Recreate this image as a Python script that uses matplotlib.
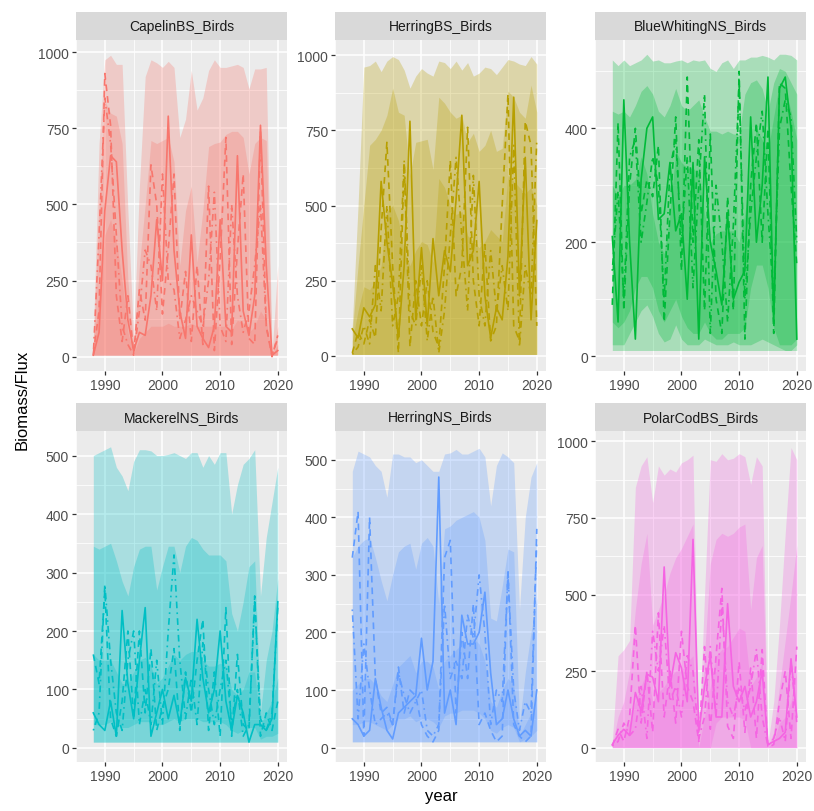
import numpy as np
import matplotlib
matplotlib.use("Agg")
import matplotlib.pyplot as plt

plt.rcParams['font.family'] = ['Liberation Sans', 'DejaVu Sans']

years = list(range(1988, 2021))

# ---- CapelinBS_Birds
cap_hi1 = [60, 700, 975, 990, 960, 960, 480, 60, 560, 920, 975, 965, 950, 970, 950, 720, 780,
           940, 810, 850, 940, 975, 950, 950, 955, 960, 950, 880, 945, 945, 950, 10, 300]
cap_hi2 = [30, 500, 840, 800, 790, 700, 250, 30, 300, 500, 710, 700, 710, 720, 640, 300, 480,
           560, 310, 480, 690, 700, 705, 730, 740, 740, 720, 600, 700, 720, 710, 5, 100]
cap_hi3 = [20, 200, 400, 450, 380, 250, 80, 10, 60, 80, 100, 100, 100, 110, 100, 100, 100,
           110, 100, 100, 100, 100, 100, 100, 90, 120, 110, 80, 100, 150, 120, 0, 40]
cap_lo = [5] * 33
cap_l1 = [5, 80, 480, 660, 640, 350, 120, 20, 80, 70, 200, 450, 250, 790, 350, 150, 60,
          400, 100, 60, 30, 100, 450, 100, 80, 660, 150, 70, 200, 760, 300, 5, 20]
cap_l2 = [10, 150, 930, 760, 200, 50, 200, 10, 220, 120, 630, 500, 140, 350, 600, 120, 280,
          50, 300, 40, 560, 20, 320, 720, 40, 350, 600, 60, 40, 740, 100, 0, 70]
cap_l3 = [5, 400, 850, 700, 400, 100, 40, 5, 150, 350, 300, 150, 600, 250, 220, 60, 120,
          200, 150, 100, 250, 540, 100, 50, 500, 200, 80, 150, 300, 500, 100, 5, 60]

# ---- HerringBS_Birds
hbs_hi1 = [100, 500, 960, 965, 980, 945, 980, 995, 985, 950, 890, 930, 955, 940, 930, 980, 975,
           955, 980, 950, 975, 930, 940, 960, 955, 935, 960, 985, 980, 970, 965, 995, 970]
hbs_hi2 = [80, 300, 500, 700, 720, 750, 800, 890, 810, 800, 600, 710, 715, 720, 620, 860, 840,
           810, 790, 800, 710, 740, 680, 700, 750, 680, 690, 880, 860, 810, 790, 900, 810]
hbs_hi3 = [50, 150, 230, 220, 250, 300, 480, 500, 450, 350, 300, 350, 380, 370, 310, 590, 560,
           500, 470, 480, 400, 380, 360, 380, 420, 400, 380, 600, 580, 560, 540, 560, 500]
hbs_lo = [5] * 33
hbs_l1 = [90, 60, 160, 130, 170, 580, 380, 240, 60, 300, 780, 120, 360, 100, 390, 200, 350,
          280, 520, 800, 300, 350, 580, 200, 60, 160, 120, 330, 860, 200, 660, 120, 450]
hbs_l2 = [10, 80, 40, 120, 60, 420, 710, 300, 10, 640, 30, 250, 100, 250, 80, 30, 300,
          650, 200, 300, 760, 250, 100, 370, 50, 100, 500, 870, 100, 50, 780, 700, 100]
hbs_l3 = [5, 30, 100, 40, 300, 150, 500, 100, 200, 650, 150, 100, 300, 50, 200, 10, 150,
          400, 660, 400, 150, 600, 200, 100, 350, 150, 300, 150, 700, 30, 300, 200, 720]

# ---- BlueWhitingNS_Birds
bw_hi1 = [520, 510, 520, 510, 515, 520, 530, 518, 520, 515, 515, 518, 520, 515, 520, 518, 520,
          505, 500, 515, 520, 505, 520, 520, 525, 525, 528, 525, 520, 530, 530, 528, 520]
bw_lo1 = [10] * 33
bw_hi2 = [430, 425, 430, 420, 440, 465, 475, 460, 430, 420, 440, 470, 440, 430, 440, 450, 420,
          395, 395, 390, 395, 390, 390, 460, 480, 485, 470, 430, 480, 505, 500, 480, 460]
bw_lo2 = [20, 20, 20, 40, 60, 80, 90, 70, 40, 25, 30, 55, 30, 20, 20, 20, 30,
          25, 20, 20, 20, 25, 20, 20, 20, 25, 30, 25, 20, 15, 10, 10, 20]
bw_hi3 = [300, 280, 300, 300, 310, 350, 320, 250, 200, 180, 250, 360, 340, 330, 330, 320, 250,
          200, 215, 220, 220, 220, 200, 250, 340, 400, 380, 360, 420, 480, 470, 430, 380]
bw_lo3 = [60, 50, 60, 80, 120, 140, 140, 120, 80, 60, 80, 100, 70, 50, 40, 40, 60,
          40, 30, 30, 40, 40, 40, 50, 120, 160, 160, 120, 50, 20, 20, 20, 30]
bw_l1 = [210, 60, 450, 200, 30, 310, 400, 420, 240, 250, 340, 220, 250, 100, 340, 30, 350,
         200, 150, 90, 250, 100, 130, 150, 420, 200, 300, 490, 60, 470, 490, 400, 30]
bw_l2 = [90, 410, 80, 300, 400, 250, 310, 280, 370, 60, 250, 420, 150, 490, 200, 380, 80,
         390, 100, 40, 280, 80, 500, 30, 300, 410, 200, 400, 40, 480, 470, 300, 160]
bw_l3 = [150, 290, 100, 350, 380, 200, 270, 350, 300, 100, 330, 380, 200, 350, 120, 300, 460,
         40, 300, 200, 60, 230, 480, 100, 250, 350, 430, 250, 100, 400, 450, 420, 200]

# ---- MackerelNS_Birds
mk_hi1 = [500, 505, 510, 515, 480, 465, 440, 490, 510, 510, 508, 500, 500, 502, 505, 500, 495,
          505, 505, 480, 500, 485, 505, 505, 400, 450, 485, 495, 510, 260, 360, 420, 480]
mk_hi2 = [345, 340, 345, 350, 320, 285, 260, 310, 340, 345, 345, 270, 310, 345, 345, 300, 345,
          360, 355, 340, 330, 330, 330, 320, 230, 200, 250, 310, 320, 60, 150, 200, 290]
mk_lo = [10] * 33
mk_hi3 = [160, 150, 150, 150, 130, 110, 110, 130, 150, 155, 140, 110, 120, 140, 160, 150, 160,
          165, 165, 150, 140, 140, 145, 140, 100, 90, 100, 130, 130, 40, 60, 80, 120]
mk_lo3 = [40, 40, 40, 45, 40, 35, 35, 40, 45, 45, 45, 40, 40, 45, 50, 45, 50,
          50, 50, 45, 45, 45, 45, 40, 30, 25, 30, 35, 35, 15, 20, 20, 25]
mk_l1 = [60, 40, 30, 80, 20, 235, 110, 50, 150, 240, 20, 60, 100, 50, 90, 40, 120,
         80, 220, 120, 60, 100, 200, 80, 30, 90, 60, 10, 40, 40, 30, 50, 250]
mk_l2 = [160, 110, 270, 50, 20, 80, 200, 50, 200, 60, 170, 30, 70, 100, 170, 30, 130,
         60, 150, 220, 30, 130, 20, 240, 20, 160, 40, 30, 260, 20, 60, 30, 80]
mk_l3 = [30, 60, 280, 150, 60, 30, 150, 200, 40, 100, 40, 150, 40, 200, 330, 150, 50,
         120, 40, 180, 100, 40, 100, 150, 40, 100, 20, 40, 250, 50, 30, 60, 240]

# ---- HerringNS_Birds
hns_hi1 = [480, 515, 510, 505, 490, 480, 435, 510, 510, 505, 505, 495, 500, 490, 480, 480, 510,
           512, 518, 510, 510, 515, 520, 505, 420, 490, 512, 505, 495, 240, 400, 470, 495]
hns_hi2 = [330, 350, 360, 365, 330, 290, 255, 300, 340, 350, 355, 310, 355, 365, 350, 250, 380,
           385, 395, 400, 405, 410, 400, 360, 225, 220, 280, 345, 340, 40, 130, 200, 260]
hns_lo = [10] * 33
hns_hi3 = [100, 110, 120, 120, 110, 90, 80, 110, 140, 150, 160, 130, 150, 150, 140, 100, 150,
           160, 170, 180, 180, 190, 180, 150, 80, 70, 100, 120, 110, 20, 40, 60, 90]
hns_lo3 = [40, 40, 45, 45, 40, 35, 30, 40, 50, 50, 55, 45, 50, 50, 45, 35, 55,
           60, 60, 65, 65, 65, 60, 50, 30, 25, 35, 40, 35, 10, 15, 20, 30]
hns_l1 = [50, 40, 20, 30, 120, 70, 30, 15, 60, 70, 80, 90, 190, 100, 150, 470, 60,
          100, 40, 230, 180, 180, 200, 270, 130, 40, 50, 100, 50, 20, 30, 20, 100]
hns_l2 = [330, 410, 20, 400, 120, 60, 70, 40, 140, 60, 100, 90, 40, 20, 10, 30, 330,
          360, 60, 200, 120, 250, 40, 60, 30, 10, 20, 310, 40, 20, 10, 20, 380]
hns_l3 = [240, 50, 180, 100, 40, 50, 60, 40, 130, 90, 60, 80, 100, 30, 20, 40, 250,
          120, 150, 120, 230, 190, 300, 200, 40, 100, 80, 300, 100, 30, 80, 60, 360]

# ---- PolarCodBS_Birds
pc_hi1 = [20, 300, 320, 350, 850, 920, 950, 800, 920, 890, 910, 900, 930, 940, 955, 10, 500,
          940, 935, 960, 940, 945, 960, 950, 860, 950, 920, 10, 150, 400, 700, 980, 940]
pc_hi2 = [10, 100, 150, 250, 450, 600, 700, 400, 450, 500, 570, 620, 650, 690, 730, 5, 300,
          600, 680, 700, 690, 700, 720, 730, 450, 620, 660, 5, 50, 200, 350, 500, 660]
pc_lo = [0] * 33
pc_hi3 = [5, 40, 60, 80, 150, 200, 250, 150, 180, 200, 230, 250, 250, 280, 300, 0, 100,
          200, 300, 320, 330, 360, 390, 380, 200, 230, 280, 0, 20, 80, 100, 150, 250]
pc_lo3 = [0, 0, 0, 0, 0, 0, 0, 0, 0, 0, 0, 0, 0, 0, 0, 0, 0,
          0, 80, 100, 100, 100, 100, 90, 0, 0, 0, 0, 0, 0, 0, 0, 0]
pc_l1 = [10, 40, 60, 40, 180, 120, 240, 230, 150, 590, 200, 310, 260, 150, 680, 50, 200,
         300, 100, 100, 470, 200, 150, 200, 100, 150, 250, 10, 20, 30, 50, 290, 100]
pc_l2 = [5, 60, 20, 100, 400, 80, 250, 50, 440, 100, 250, 80, 380, 200, 150, 20, 330,
         60, 300, 520, 70, 30, 280, 50, 260, 30, 320, 0, 10, 150, 250, 30, 330]
pc_l3 = [5, 20, 80, 40, 60, 200, 30, 380, 250, 400, 150, 200, 100, 300, 250, 30, 100,
         330, 100, 470, 150, 100, 200, 120, 200, 320, 100, 5, 30, 100, 20, 280, 80]

titles = ["CapelinBS_Birds", "HerringBS_Birds", "BlueWhitingNS_Birds",
          "MackerelNS_Birds", "HerringNS_Birds", "PolarCodBS_Birds"]
colors = ["#F8766D", "#B79F00", "#00BA38", "#00BFC4", "#619CFF", "#F564E3"]

panels = [
    dict(ribbons=[(cap_lo, cap_hi1), (cap_lo, cap_hi2), (cap_lo, cap_hi3)],
         lines=[cap_l1, cap_l2, cap_l3], ylim=(-47, 1040), major=250),
    dict(ribbons=[(hbs_lo, hbs_hi1), (hbs_lo, hbs_hi2), (hbs_lo, hbs_hi3)],
         lines=[hbs_l1, hbs_l2, hbs_l3], ylim=(-50, 1050), major=250),
    dict(ribbons=[(bw_lo1, bw_hi1), (bw_lo2, bw_hi2), (bw_lo3, bw_hi3)],
         lines=[bw_l1, bw_l2, bw_l3], ylim=(-26, 555), major=200),
    dict(ribbons=[(mk_lo, mk_hi1), (mk_lo, mk_hi2), (mk_lo3, mk_hi3)],
         lines=[mk_l1, mk_l2, mk_l3], ylim=(-24, 542), major=100),
    dict(ribbons=[(hns_lo, hns_hi1), (hns_lo, hns_hi2), (hns_lo3, hns_hi3)],
         lines=[hns_l1, hns_l2, hns_l3], ylim=(-25, 550), major=100),
    dict(ribbons=[(pc_lo, pc_hi1), (pc_lo, pc_hi2), (pc_lo3, pc_hi3)],
         lines=[pc_l1, pc_l2, pc_l3], ylim=(-47, 1034), major=250),
]

W, H = 814, 812
fig = plt.figure(figsize=(W / 100, H / 100), dpi=100)
fig.patch.set_facecolor("white")

lefts = [76, 335, 595]
pw = 211
rows = [(41, 372, 13), (432, 763, 404)]  # plot top, plot bottom, strip top
dash_styles = ["-", (0, (4, 3)), (0, (1, 2.5, 4, 2.5))]

for i, p in enumerate(panels):
    r, c = divmod(i, 3)
    top, bot, stop = rows[r]
    left = lefts[c]
    ax = fig.add_axes([left / W, (H - bot) / H, pw / W, (bot - top) / H])
    ax.set_facecolor("#EBEBEB")
    for s in ax.spines.values():
        s.set_visible(False)
    col = colors[i]
    for lo, hi in p["ribbons"]:
        ax.fill_between(years, lo, hi, color=col, alpha=0.28, linewidth=0, zorder=2)
    for ln, ls in zip(p["lines"], dash_styles):
        ax.plot(years, ln, color=col, lw=1.2, linestyle=ls, zorder=3)
    ax.set_xlim(1986.4, 2021.6)
    ax.set_ylim(*p["ylim"])
    m = p["major"]
    ymax = p["ylim"][1]
    ax.set_xticks([1990, 2000, 2010, 2020])
    ax.set_xticks([1985, 1995, 2005, 2015], minor=True)
    ax.set_yticks(np.arange(0, ymax, m))
    ax.set_yticks(np.arange(m / 2, ymax, m), minor=True)
    ax.grid(True, which="major", color="white", lw=1.1, zorder=0)
    ax.grid(True, which="minor", color="white", lw=0.55, zorder=0)
    ax.set_axisbelow(True)
    ax.tick_params(which="major", length=3, width=0.9, color="#333333",
                   labelsize=10, labelcolor="#4D4D4D", pad=2)
    ax.tick_params(which="minor", length=0)

    sax = fig.add_axes([left / W, (H - top) / H, pw / W, (top - stop) / H])
    sax.set_facecolor("#D9D9D9")
    sax.set_xticks([])
    sax.set_yticks([])
    for s in sax.spines.values():
        s.set_visible(False)
    sax.text(0.5, 0.5, titles[i], ha="center", va="center", fontsize=10,
             color="#1A1A1A", transform=sax.transAxes)

fig.text(22 / W, (H - 400) / H, "Biomass/Flux", rotation=90, ha="center",
         va="center", fontsize=12, color="black")
fig.text(441 / W, (H - 797) / H, "year", ha="center", va="center",
         fontsize=12, color="black")

fig.savefig("out.png", dpi=100, facecolor="white")
